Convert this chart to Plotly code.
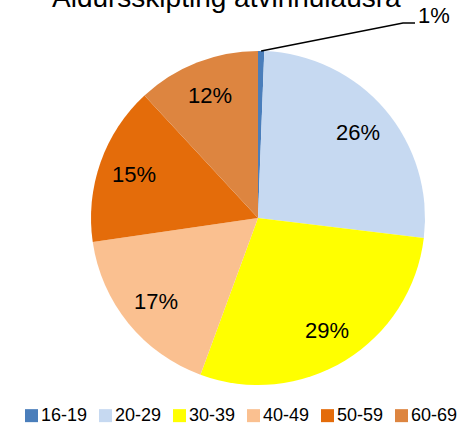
import math
import plotly.graph_objects as go

categories = ["16-19", "20-29", "30-39", "40-49", "50-59", "60-69"]
values = [0.6, 26.3, 28.7, 17.1, 15.4, 11.9]
colors = ["#4A7EBB", "#C6D9F1", "#FFFF00", "#FAC090", "#E46C0A", "#DD8540"]
title_text = "Aldursskipting atvinnulausra"

W, H = 460, 427
cx, cy, R = 258, 218, 167  # pie centre/radius in pixels

dom_x = [(cx - R) / W, (cx + R) / W]
dom_y = [(H - cy - R) / H, (H - cy + R) / H]

fig = go.Figure(go.Pie(
    labels=categories, values=values, sort=False, direction="clockwise",
    rotation=0, marker=dict(colors=colors, line=dict(width=0)),
    textinfo="none", hoverinfo="label+percent",
    domain=dict(x=dom_x, y=dom_y), showlegend=False,
))

total = sum(values)
annotations = []
shapes = []
cum = 0.0
for i, v in enumerate(values):
    mid = (cum + v / 2) / total * 2 * math.pi
    cum += v
    label = f"{round(v / total * 100)}%"
    if i == 0:
        ex = cx + R * math.sin(mid)
        ey = cy - R * math.cos(mid)
        shapes.append(dict(type="path", xref="paper", yref="paper",
                           path=f"M {ex/W} {(H-ey)/H} L {403/W} {(H-23)/H} L {415/W} {(H-23)/H}",
                           line=dict(color="black", width=1.5)))
        annotations.append(dict(x=416 / W, y=(H - 15.5) / H, xref="paper", yref="paper",
                                text=label, showarrow=False, xanchor="left", yanchor="middle",
                                font=dict(size=22, color="black")))
    else:
        rr = 0.79 * R
        px = cx + rr * math.sin(mid)
        py = cy - rr * math.cos(mid)
        annotations.append(dict(x=px / W, y=(H - py) / H, xref="paper", yref="paper",
                                text=label, showarrow=False, xanchor="center", yanchor="middle",
                                font=dict(size=22, color="black")))

annotations.append(dict(x=226 / W, y=(H - 15) / H, xref="paper", yref="paper",
                        text=title_text, showarrow=False, xanchor="center", yanchor="bottom",
                        font=dict(size=28, color="black")))

# legend (drawn as colour swatches + labels in one row)
leg_x0, leg_step, sw = 25, 74, 13
leg_font = 18
leg_yc = H - (leg_font * 1.15 + 2) / 2  # text box sits on the bottom edge
for i, (cat, col) in enumerate(zip(categories, colors)):
    x = leg_x0 + i * leg_step
    shapes.append(dict(type="rect", xref="paper", yref="paper",
                       x0=x / W, x1=(x + sw) / W,
                       y0=(H - leg_yc - sw / 2) / H, y1=(H - leg_yc + sw / 2) / H,
                       fillcolor=col, line=dict(width=0)))
    annotations.append(dict(x=(x + sw + 0.5) / W, y=0, xref="paper", yref="paper",
                            text=cat, showarrow=False, xanchor="left", yanchor="bottom",
                            font=dict(size=leg_font, color="black")))

fig.update_layout(
    width=W, height=H,
    margin=dict(l=0, r=0, t=0, b=0),
    paper_bgcolor="white",
    font=dict(family="Liberation Sans, Arial, sans-serif", color="black"),
    showlegend=False,
    annotations=annotations,
    shapes=shapes,
)

fig.write_html("out.html", config={"displayModeBar": False},
               post_script="document.body.style.margin='0';")
